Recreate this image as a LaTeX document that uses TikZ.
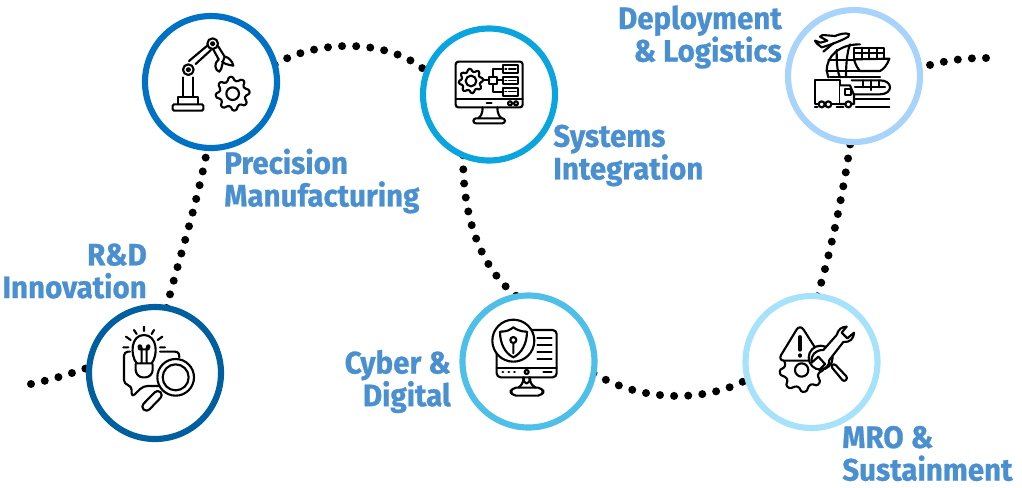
\documentclass[tikz,border=0pt]{standalone}
\usepackage{fontspec}
\usetikzlibrary{backgrounds}
\setmainfont[FakeStretch=0.95,BoldFeatures={FakeBold=0.8}]{Fira Sans}
\definecolor{cA}{HTML}{00609F}
\definecolor{cB}{HTML}{0072C6}
\definecolor{cC}{HTML}{0AA5DE}
\definecolor{cD}{HTML}{4DBFE8}
\definecolor{cE}{HTML}{A6E2FA}
\definecolor{cF}{HTML}{A8D4FB}
\definecolor{lab}{HTML}{4A90D0}
\tikzset{
 ring/.style={circle,draw=#1,line width=4.6pt,fill=white,minimum size=99pt,inner sep=0pt,outer sep=0pt},
 dots/.style={line width=6pt,line cap=round,dash pattern=on 0pt off 10.6pt,black},
 lbl/.style={font=\fontsize{23.3}{24.5}\selectfont\bfseries,text=lab,inner sep=0pt},
 ic/.style={line width=1.6pt,line cap=round,line join=round,black},
 zoomed/.style={shift={#1},scale=1/3}
}
\newcommand{\gearshape}[6]{% cx cy outer inner teeth hole
 \draw[ic,rounded corners=0.8pt] ({#1+#4*cos(360*(0.45)/#5)},{#2+#4*sin(360*(0.45)/#5)}) \foreach \k in {1,...,#5}{
   -- ({#1+#3*cos(360*(\k-0.28)/#5)},{#2+#3*sin(360*(\k-0.28)/#5)})
   -- ({#1+#3*cos(360*(\k+0.0)/#5)},{#2+#3*sin(360*(\k+0.0)/#5)})
   -- ({#1+#4*cos(360*(\k+0.2)/#5)},{#2+#4*sin(360*(\k+0.2)/#5)})
   -- ({#1+#4*cos(360*(\k+0.45)/#5)},{#2+#4*sin(360*(\k+0.45)/#5)}) } -- cycle;
 \draw[ic] (#1,#2) circle (#6);
}
\begin{document}
\begin{tikzpicture}[x=0.75pt,y=-0.75pt]
\useasboundingbox (0,0) rectangle (1022,487);
\node[ring=cA] (rd) at (155,373) {};
\node[ring=cB] (pm) at (211,82) {};
\node[ring=cC] (si) at (489,94.5) {};
\node[ring=cD] (cy) at (528.5,361.5) {};
\node[ring=cE] (mr) at (811.5,362) {};
\node[ring=cF] (dl) at (854,76) {};
\coordinate (st) at (31,384);
\coordinate (en) at (986,58);
\begin{scope}[on background layer]
\draw[dots] (st) .. controls (50,380) and (70,374) .. (rd.175);
\draw[dots] (rd.80) .. controls (178,262) and (197,205) .. (pm.267);
\draw[dots] (pm.15) .. controls (310,42) and (385,35) .. (si.160);
\draw[dots] (si.247) .. controls (462,215) and (480,268) .. (cy.100);
\draw[dots] (cy.350) .. controls (640,402) and (705,403) .. (mr.195);
\draw[dots] (mr.85) .. controls (830,255) and (843,195) .. (dl.267);
\draw[dots] (en) .. controls (965,58) and (945,60) .. (dl.7);
\end{scope}
\node[lbl,anchor=east,align=right] (t1) at (147,271) {R\&D\\Innovation};
\node[lbl,anchor=west,align=left] (t2) at (224,181) {Precision\\Manufacturing};
\node[lbl,anchor=west,align=left] (t3) at (553,155.5) {Systems\\Integration};
\node[lbl,anchor=east,align=right] (t4) at (451,381.5) {Cyber \&\\Digital};
\node[lbl,anchor=west,align=left] (t5) at (842,453.5) {MRO \&\\Sustainment};
\node[lbl,anchor=east,align=right] (t6) at (782,37) {Deployment\\\& Logistics};
% robot icon
\begin{scope}[zoomed={(130,0)}]
\draw[ic,rounded corners=1pt] (128,313) rectangle (220,332);
\draw[ic] (145,313) -- (145,290) -- (205,290) -- (205,313);
\draw[ic] (160,290) -- (160,232) (188,290) -- (188,232);
\draw[ic] (175,209) circle (16) (175,209) circle (5);
\draw[ic] (248,131) circle (16) (248,131) circle (5);
\draw[ic] (177,183) -- (233,136) (197,192) -- (243,150);
\draw[ic] (249,147) -- (266,178) (264,138) -- (284,170);
\draw[ic] (266,178) .. controls (250,190) and (255,212) .. (268,215) .. controls (278,205) and (275,190) .. (284,170) .. controls (295,170) and (308,185) .. (310,197) .. controls (295,195) and (280,190) .. (276,185);
\gearshape{308}{281}{51}{39}{8}{19}
\end{scope}
% systems icon
\begin{scope}[zoomed={(410,20)}]
\draw[ic,rounded corners=2pt] (137,125) rectangle (338,262);
\draw[ic] (137,238) -- (338,238) (230,250) -- (245,250);
\draw[ic] (300,250) circle (6) (318,250) circle (6);
\draw[ic] (218,262) .. controls (218,280) and (212,290) .. (205,295) (262,262) .. controls (262,280) and (268,290) .. (275,295);
\draw[ic,rounded corners=2pt] (190,295) rectangle (285,310);
\gearshape{183}{183}{37}{28}{8}{16}
\draw[ic] (220,181) -- (238,181) (262,181) -- (278,181);
\draw[ic] (238,170) rectangle (262,192);
\draw[ic] (250,170) -- (250,147) -- (278,147) (250,192) -- (250,215) -- (278,215);
\draw[ic] (278,135) rectangle (325,158) (278,170) rectangle (325,192) (278,204) rectangle (325,227);
\draw[ic,line width=1pt] (285,147) -- (290,147) (296,147) -- (318,147) (285,181) -- (290,181) (296,181) -- (318,181) (285,215) -- (290,215) (296,215) -- (318,215);
\end{scope}
% logistics icon
\begin{scope}[zoomed={(780,0)}]
\draw[ic] (207,102) .. controls (195,98) and (180,102) .. (165,108) -- (128,105) -- (120,110) -- (142,122) -- (122,128) -- (105,122) -- (110,130) -- (125,142) .. controls (150,135) and (185,122) .. (205,110) -- cycle;
\draw[ic] (130,155) -- (160,130);
\draw[ic] (140,212) .. controls (140,170) and (175,133) .. (240,133);
\draw[ic] (140,212) -- (145,232);
\draw[ic] (170,150) .. controls (170,180) and (170,210) .. (180,232) (210,133) .. controls (200,160) and (198,200) .. (198,232);
\draw[ic] (145,180) -- (222,180) (140,212) -- (240,212) (150,232) -- (300,232);
\draw[ic] (222,178) -- (328,176) .. controls (322,195) and (310,208) .. (300,213) -- (240,213) .. controls (232,205) and (225,190) .. (222,178);
\draw[ic] (222,143) rectangle (312,178) (245,143) -- (245,178) (268,143) -- (268,178) (292,143) -- (292,178) (222,160) -- (312,160);
\draw[ic] (215,241) -- (300,241) .. controls (340,241) and (340,283) .. (300,283) -- (215,283);
\draw[ic] (225,262) -- (315,262) (248,241) -- (248,262) (272,241) -- (272,270) (296,241) -- (296,262);
\draw[ic] (225,296) -- (328,296) (228,322) -- (328,322) (105,322) -- (112,322) (170,322) -- (190,322);
\draw[ic,fill=white] (180,312) -- (105,312) -- (105,240) -- (180,240) -- cycle;
\draw[ic,fill=white] (180,256) -- (210,256) -- (222,285) -- (222,312) -- (180,312);
\draw[ic] (195,268) rectangle (212,285);
\draw[ic,fill=white] (125,313) circle (9) (145,313) circle (9) (205,313) circle (9);
\end{scope}
% R&D icon
\begin{scope}[zoomed={(80,300)}]
\draw[ic,rounded corners=3pt] (150,155) -- (132,155) -- (132,252) -- (155,258) -- (155,292) -- (190,258) -- (240,258);
\draw[ic] (240,155) -- (285,155) .. controls (295,155) and (298,162) .. (298,172);
\draw[ic] (170,190) .. controls (150,165) and (152,105) .. (192,105) .. controls (232,105) and (235,165) .. (215,190);
\draw[ic] (170,190) -- (215,190) (185,190) -- (185,145) .. controls (185,130) and (170,135) .. (178,148) -- (205,148) .. controls (215,135) and (200,130) .. (200,145) -- (200,190);
\draw[ic,rounded corners=2pt] (167,192) -- (167,218) -- (180,232) -- (205,232) -- (218,218) -- (218,192);
\draw[ic] (192,80) -- (192,93) (162,90) -- (170,102) (222,90) -- (215,102) (138,110) -- (152,120) (247,110) -- (233,120) (130,142) -- (145,142) (240,142) -- (255,142);
\draw[ic,fill=white] (287,232) circle (55);
\draw[ic] (287,232) circle (39);
\draw[ic,fill=white,rounded corners=3pt] (233,268) -- (250,285) -- (200,337) -- (182,320) -- cycle;
\end{scope}
% cyber icon
\begin{scope}[zoomed={(455,290)}]
\draw[ic,rounded corners=3pt] (125,160) -- (125,262) -- (305,262) -- (305,120) -- (205,120);
\draw[ic] (125,233) -- (305,233);
\draw[ic,fill=white] (175,152) circle (63);
\draw[ic] (135,125) .. controls (155,125) and (165,120) .. (175,112) .. controls (185,120) and (200,125) .. (216,125) .. controls (216,160) and (200,190) .. (175,202) .. controls (150,190) and (135,160) .. (135,125) -- cycle;
\draw[ic] (175,150) circle (9) (175,160) -- (175,190);
\draw[ic] (247,145) -- (290,145) (247,165) -- (290,165) (247,186) -- (290,186) (247,207) -- (290,207) (265,246) -- (290,246);
\draw[ic,line width=2pt] (143,246) -- (144,246) (161,246) -- (162,246) (178,246) -- (179,246);
\draw[ic] (215,246) circle (6);
\draw[ic] (205,262) .. controls (205,280) and (200,285) .. (190,293) (225,262) .. controls (225,280) and (230,285) .. (242,293);
\draw[ic,rounded corners=4pt] (167,293) rectangle (265,317);
\draw[ic] (207,262) -- (207,275) .. controls (210,282) and (220,282) .. (223,275) -- (223,262);
\end{scope}
% MRO icon
\begin{scope}[zoomed={(740,290)}]
\gearshape{185}{240}{66}{52}{8}{20}
\draw[ic,fill=white,rounded corners=5pt] (180,102) -- (113,212) -- (250,212) -- cycle;
\draw[ic,line width=2.4pt] (180,140) -- (180,180);
\draw[ic,line width=2.6pt] (180,195) -- (180,198);
\draw[ic,fill=white,rounded corners=2pt] (272,228) -- (282,220) -- (324,264) -- (312,276) -- cycle;
\draw[ic,fill=white] (242,203) circle (36);
\draw[ic,fill=white] (290,135) .. controls (295,118) and (305,110) .. (320,110) -- (305,128) -- (322,145) -- (342,128) .. controls (342,145) and (330,158) .. (310,156) -- (268,210) .. controls (270,225) and (255,240) .. (238,240) -- (255,222) -- (235,200) -- (215,218) .. controls (212,195) and (225,180) .. (250,180) -- (290,135);
\end{scope}
\end{tikzpicture}
\end{document}
